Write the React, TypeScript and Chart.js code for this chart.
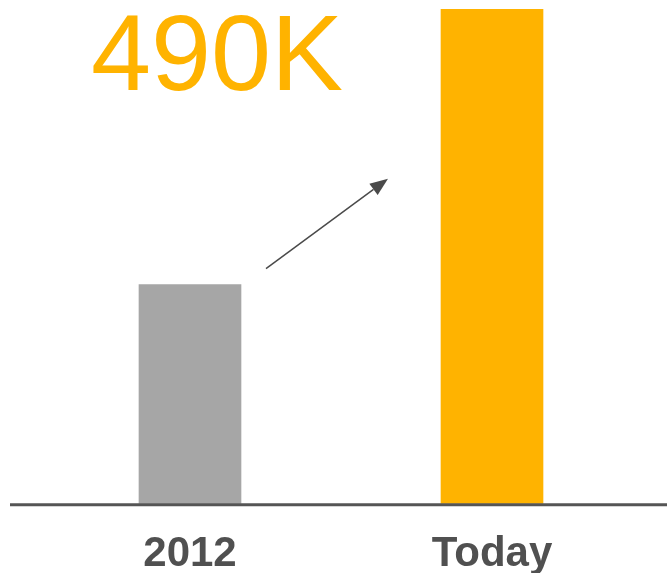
import React, { useEffect, useRef } from "react";
import { Chart, registerables } from "chart.js";

Chart.register(...registerables);

const categories = ["2012", "Today"];
const values = [217, 490];
const barColors = ["#A6A6A6", "#FFB300"];
const headline = "490K";

const overlayPlugin = {
  id: "overlay",
  afterDatasetsDraw(chart: any) {
    const { ctx, chartArea, scales } = chart;
    const x = scales.x;
    const y = scales.y;
    const base = y.getPixelForValue(0);
    ctx.save();
    // baseline
    ctx.strokeStyle = "#555555";
    ctx.lineWidth = 3;
    ctx.beginPath();
    ctx.moveTo(10, base + 1);
    ctx.lineTo(chart.width, base + 1);
    ctx.stroke();

    // headline
    const x0 = x.getPixelForValue(0);
    ctx.fillStyle = "#FFB300";
    ctx.font = "108px 'Liberation Sans', Arial, sans-serif";
    ctx.textAlign = "center";
    ctx.textBaseline = "alphabetic";
    ctx.fillText(headline, x0 + 27, chartArea.top + 81);

    // arrow
    const sx = x0 + 76, sy = y.getPixelForValue(values[0]) - 16;
    const ex = x0 + 198, ey = sy - 90;
    const ang = Math.atan2(ey - sy, ex - sx);
    const hl = 18, hw = 7;
    const bx = ex - hl * Math.cos(ang), by = ey - hl * Math.sin(ang);
    ctx.strokeStyle = "#4A4A4A";
    ctx.lineWidth = 1.5;
    ctx.beginPath();
    ctx.moveTo(sx, sy);
    ctx.lineTo(bx, by);
    ctx.stroke();
    ctx.fillStyle = "#4A4A4A";
    ctx.beginPath();
    ctx.moveTo(ex, ey);
    ctx.lineTo(bx + hw * Math.sin(ang), by - hw * Math.cos(ang));
    ctx.lineTo(bx - hw * Math.sin(ang), by + hw * Math.cos(ang));
    ctx.closePath();
    ctx.fill();
    ctx.restore();
  },
};

export default function App() {
  const ref = useRef<HTMLCanvasElement>(null);
  useEffect(() => {
    document.body.style.margin = "0";
    const chart = new Chart(ref.current!, {
      type: "bar",
      data: {
        labels: categories,
        datasets: [
          {
            data: values,
            backgroundColor: barColors,
            borderWidth: 0,
            barThickness: 102,
          },
        ],
      },
      options: {
        animation: false,
        responsive: false,
        layout: { padding: { top: 9, left: 39, right: 24, bottom: -33 } },
        plugins: { legend: { display: false }, tooltip: { enabled: false } },
        scales: {
          x: {
            grid: { display: false, drawTicks: false },
            border: { display: false },
            ticks: {
              color: "#505050",
              padding: 28,
              font: { family: "'Liberation Sans', Arial, sans-serif", size: 42, weight: "bold", lineHeight: 1.1 },
            },
          },
          y: { display: false, min: 0, max: 490 },
        },
      },
      plugins: [overlayPlugin],
    });
    return () => chart.destroy();
  }, []);
  return <canvas ref={ref} width={667} height={573} style={{ display: "block" }} />;
}
